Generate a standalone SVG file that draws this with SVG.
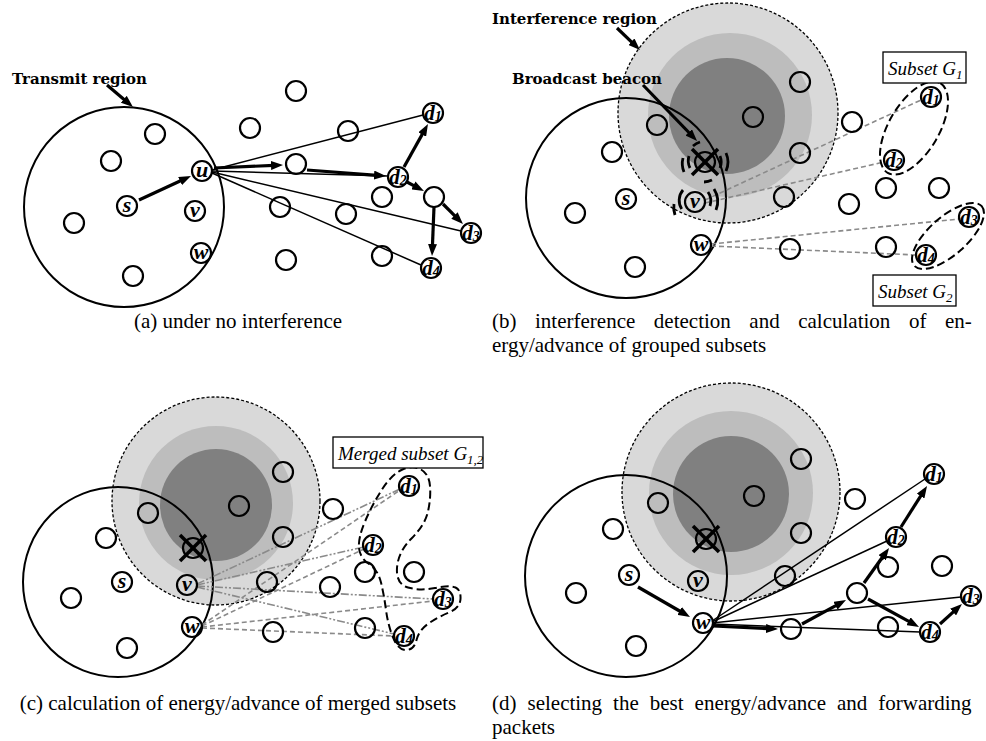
<svg xmlns="http://www.w3.org/2000/svg" width="986" height="741" viewBox="0 0 986 741">
<style>
.n{fill:none;stroke:#000;stroke-width:2.2}
.big{fill:none;stroke:#000;stroke-width:2}
.lbl{font-family:"Liberation Serif","Times New Roman",serif;font-style:italic;font-weight:bold;font-size:22px;text-anchor:middle}
.dl{font-family:"Liberation Serif","Times New Roman",serif;font-style:italic;font-weight:bold;font-size:21px;text-anchor:middle}
.thin{stroke:#000;stroke-width:1.5;fill:none}
.thick{stroke:#000;stroke-width:3.2;fill:none;marker-end:url(#ah)}
.gd{stroke:#8a8a8a;stroke-width:1.6;stroke-dasharray:5 3;fill:none}
.gdd{stroke:#8a8a8a;stroke-width:1.6;stroke-dasharray:8 2 2 2 2 2;fill:none}
.ir1{fill:#d9d9d9;stroke:#000;stroke-width:1.3;stroke-dasharray:3 2}
.ir2{fill:#bdbdbd}
.ir3{fill:#808080}
.title{font-family:"DejaVu Serif",serif;font-weight:bold;font-size:15px}
.cap{font-family:"Liberation Serif","Times New Roman",serif;font-size:21px}
.box{fill:#fff;stroke:#000;stroke-width:1.3}
.boxt{font-family:"Liberation Serif","Times New Roman",serif;font-style:italic;font-size:19px}
.ell{fill:none;stroke:#000;stroke-width:2;stroke-dasharray:8 4}
.x{stroke:#000;stroke-width:3.5}
.wave{fill:none;stroke:#000;stroke-width:2.8}
</style>
<defs>
<marker id="ah" viewBox="0 0 12 9" refX="3" refY="4.5" markerWidth="12" markerHeight="9" markerUnits="userSpaceOnUse" orient="auto"><path d="M0,0 L12,4.5 L0,9 z" fill="#000"/></marker>
</defs>

<!-- ================= Panel (a) ================= -->
<g id="a-regions">
<circle class="big" cx="124" cy="207" r="100"/>
<text class="title" x="12" y="84" textLength="135">Transmit region</text>
</g>
<g id="a-connectors">
<line class="thick" x1="107" y1="85" x2="126.1" y2="101.2"/>
<line class="thin" x1="212" y1="170" x2="423" y2="115"/>
<line class="thin" x1="212" y1="171" x2="388" y2="176"/>
<line class="thin" x1="212" y1="172" x2="461" y2="231"/>
<line class="thin" x1="212" y1="173" x2="421" y2="265"/>
<line class="thick" x1="139" y1="200" x2="182.8" y2="179.8"/>
<line class="thick" x1="214" y1="168" x2="274" y2="165.4"/>
<line class="thick" x1="307" y1="170" x2="377" y2="175.3"/>
<line class="thick" x1="404" y1="167" x2="423.6" y2="131.9"/>
<line class="thick" x1="407" y1="182" x2="416" y2="186.8"/>
<line class="thick" x1="443" y1="204" x2="456.6" y2="217.6"/>
<line class="thick" x1="434" y1="207" x2="432.4" y2="247"/>
</g>
<g id="a-n1"><circle class="n" cx="155" cy="134" r="10"/></g>
<g id="a-n2"><circle class="n" cx="111" cy="161" r="10"/></g>
<g id="a-s"><circle class="n" cx="127" cy="206" r="10"/><text class="lbl" x="127" y="212">s</text></g>
<g id="a-u"><circle class="n" cx="202" cy="171" r="10"/><text class="lbl" x="202" y="177">u</text></g>
<g id="a-v"><circle class="n" cx="195" cy="211" r="10"/><text class="lbl" x="195" y="217">v</text></g>
<g id="a-w"><circle class="n" cx="201" cy="253" r="10"/><text class="lbl" x="201" y="259">w</text></g>
<g id="a-n3"><circle class="n" cx="74" cy="223" r="10"/></g>
<g id="a-n4"><circle class="n" cx="133" cy="276" r="10"/></g>
<g id="a-n5"><circle class="n" cx="296" cy="91" r="10"/></g>
<g id="a-n6"><circle class="n" cx="250" cy="128" r="10"/></g>
<g id="a-n7"><circle class="n" cx="348" cy="131" r="10"/></g>
<g id="a-n8"><circle class="n" cx="296" cy="164" r="10"/></g>
<g id="a-d1"><circle class="n" cx="433" cy="113" r="10"/><text class="dl" x="433" y="120">d<tspan font-size="14" dy="1">1</tspan></text></g>
<g id="a-d2"><circle class="n" cx="398" cy="177" r="10"/><text class="dl" x="398" y="184">d<tspan font-size="14" dy="1">2</tspan></text></g>
<g id="a-n9"><circle class="n" cx="382" cy="197" r="10"/></g>
<g id="a-n10"><circle class="n" cx="434" cy="197" r="10"/></g>
<g id="a-n11"><circle class="n" cx="280" cy="207" r="10"/></g>
<g id="a-n12"><circle class="n" cx="346" cy="214" r="10"/></g>
<g id="a-d3"><circle class="n" cx="471" cy="233" r="10"/><text class="dl" x="471" y="240">d<tspan font-size="14" dy="1">3</tspan></text></g>
<g id="a-n13"><circle class="n" cx="286" cy="260" r="10"/></g>
<g id="a-n14"><circle class="n" cx="382" cy="256" r="10"/></g>
<g id="a-d4"><circle class="n" cx="431" cy="268" r="10"/><text class="dl" x="431" y="275">d<tspan font-size="14" dy="1">4</tspan></text></g>
<text class="cap" x="238" y="328" text-anchor="middle">(a) under no interference</text>

<!-- ================= Panel (b) ================= -->
<g id="b-regions">
<circle class="ir1" cx="728" cy="113" r="110"/>
<circle class="ir2" cx="730" cy="115" r="82"/>
<circle class="ir3" cx="727" cy="116" r="58"/>
<circle class="big" cx="626" cy="198" r="100"/>
<text class="title" x="492" y="24" textLength="165">Interference region</text>
<text class="title" x="512" y="84" textLength="150">Broadcast beacon</text>
</g>
<g id="b-connectors">
<line class="thick" x1="617" y1="28" x2="633.5" y2="43.8"/>
<line class="thick" x1="643" y1="85" x2="690.8" y2="134.5"/>
<line class="gd" x1="705" y1="200" x2="921" y2="100"/>
<line class="gd" x1="705" y1="203" x2="884" y2="162"/>
<line class="gd" x1="711" y1="244" x2="959" y2="219"/>
<line class="gd" x1="711" y1="246" x2="916" y2="255"/>
</g>
<g id="b-n1"><circle class="n" cx="657" cy="125" r="10"/></g>
<g id="b-n2"><circle class="n" cx="612" cy="152" r="10"/></g>
<g id="b-s"><circle class="n" cx="626" cy="199" r="10"/><text class="lbl" x="626" y="205">s</text></g>
<g id="b-n3"><circle class="n" cx="575" cy="213" r="10"/></g>
<g id="b-v"><circle class="n" cx="695" cy="202" r="10"/><text class="lbl" x="695" y="208">v</text>
<path class="wave" d="M681.7,209 A16,16 0 0 1 683,190 M675,215 A23,23 0 0 1 674,204 M708,192 A16,16 0 0 1 710,206 M714,189 A23,23 0 0 1 716,210"/></g>
<g id="b-w"><circle class="n" cx="701" cy="245" r="10"/><text class="lbl" x="701" y="251">w</text></g>
<g id="b-n4"><circle class="n" cx="635" cy="267" r="10"/></g>
<g id="b-beacon"><circle class="n" cx="705" cy="162" r="10"/>
<line class="x" x1="692" y1="149" x2="718" y2="175"/><line class="x" x1="692" y1="175" x2="718" y2="149"/>
<path class="wave" d="M690,168 A16,16 0 0 1 689,156 M684,172 A22,22 0 0 1 683,158 M693,146 A20,20 0 0 1 700,142 M720,156 A16,16 0 0 1 720,168 M726,153 A22,22 0 0 1 726,171 M712,180 A20,20 0 0 1 704,182"/></g>
<g id="b-n5"><circle class="n" cx="800" cy="82" r="10"/></g>
<g id="b-n6"><circle class="n" cx="753" cy="117" r="10"/></g>
<g id="b-n7"><circle class="n" cx="800" cy="153" r="10"/></g>
<g id="b-n8"><circle class="n" cx="784" cy="197" r="10"/></g>
<g id="b-n9"><circle class="n" cx="852" cy="122" r="10"/></g>
<g id="b-d1"><circle class="n" cx="931" cy="97" r="10"/><text class="dl" x="931" y="104">d<tspan font-size="14" dy="1">1</tspan></text></g>
<g id="b-d2"><circle class="n" cx="894" cy="160" r="10"/><text class="dl" x="894" y="167">d<tspan font-size="14" dy="1">2</tspan></text></g>
<g id="b-n10"><circle class="n" cx="886" cy="188" r="10"/></g>
<g id="b-n11"><circle class="n" cx="939" cy="188" r="10"/></g>
<g id="b-n12"><circle class="n" cx="849" cy="204" r="10"/></g>
<g id="b-d3"><circle class="n" cx="969" cy="217" r="10"/><text class="dl" x="969" y="224">d<tspan font-size="14" dy="1">3</tspan></text></g>
<g id="b-n13"><circle class="n" cx="790" cy="249" r="10"/></g>
<g id="b-n14"><circle class="n" cx="886" cy="247" r="10"/></g>
<g id="b-d4"><circle class="n" cx="926" cy="255" r="10"/><text class="dl" x="926" y="262">d<tspan font-size="14" dy="1">4</tspan></text></g>
<g id="b-G1">
<ellipse class="ell" cx="914" cy="128" rx="52" ry="25" transform="rotate(-59.6 914 128)"/>
<rect class="box" x="883" y="52" width="83" height="31"/>
<text class="boxt" x="888" y="75">Subset G<tspan font-size="13" dy="4">1</tspan></text>
</g>
<g id="b-G2">
<ellipse class="ell" cx="948" cy="236" rx="45" ry="19" transform="rotate(-41.5 948 236)"/>
<rect class="box" x="873" y="275" width="83" height="31"/>
<text class="boxt" x="878" y="298">Subset G<tspan font-size="13" dy="4">2</tspan></text>
</g>
<text class="cap" x="492" y="328" word-spacing="13.3">(b) interference detection and calculation of en-</text>
<text class="cap" x="492" y="352">ergy/advance of grouped subsets</text>

<!-- ================= Panel (c) ================= -->
<g id="c-regions">
<circle class="ir1" cx="216" cy="501" r="104"/>
<circle class="ir2" cx="216" cy="503" r="77"/>
<circle class="ir3" cx="216" cy="505" r="56"/>
<circle class="big" cx="118" cy="582" r="95"/>
</g>
<g id="c-connectors">
<line class="gdd" x1="197" y1="584" x2="400" y2="489"/>
<line class="gdd" x1="197" y1="585" x2="364" y2="547"/>
<line class="gdd" x1="197" y1="586" x2="433" y2="599"/>
<line class="gdd" x1="197" y1="587" x2="394" y2="634"/>
<line class="gd" x1="202" y1="625" x2="400" y2="490"/>
<line class="gd" x1="202" y1="626" x2="364" y2="549"/>
<line class="gd" x1="202" y1="627" x2="433" y2="601"/>
<line class="gd" x1="202" y1="628" x2="394" y2="636"/>
</g>
<g id="c-n1"><circle class="n" cx="148" cy="513" r="10"/></g>
<g id="c-n2"><circle class="n" cx="106" cy="538" r="10"/></g>
<g id="c-s"><circle class="n" cx="122" cy="582" r="10"/><text class="lbl" x="122" y="588">s</text></g>
<g id="c-n3"><circle class="n" cx="71" cy="598" r="10"/></g>
<g id="c-v"><circle class="n" cx="187" cy="585" r="10"/><text class="lbl" x="187" y="591">v</text></g>
<g id="c-w"><circle class="n" cx="192" cy="627" r="10"/><text class="lbl" x="192" y="633">w</text></g>
<g id="c-n4"><circle class="n" cx="127" cy="648" r="10"/></g>
<g id="c-x"><circle class="n" cx="193" cy="548" r="10"/><line class="x" x1="180" y1="535" x2="206" y2="561"/><line class="x" x1="180" y1="561" x2="206" y2="535"/></g>
<g id="c-n5"><circle class="n" cx="283" cy="472" r="10"/></g>
<g id="c-n6"><circle class="n" cx="239" cy="506" r="10"/></g>
<g id="c-n7"><circle class="n" cx="283" cy="537" r="10"/></g>
<g id="c-n8"><circle class="n" cx="267" cy="582" r="10"/></g>
<g id="c-n9"><circle class="n" cx="333" cy="509" r="10"/></g>
<g id="c-d1"><circle class="n" cx="409" cy="486" r="10"/><text class="dl" x="409" y="493">d<tspan font-size="14" dy="1">1</tspan></text></g>
<g id="c-d2"><circle class="n" cx="373" cy="545" r="10"/><text class="dl" x="373" y="552">d<tspan font-size="14" dy="1">2</tspan></text></g>
<g id="c-n10"><circle class="n" cx="365" cy="572" r="10"/></g>
<g id="c-n11"><circle class="n" cx="414" cy="572" r="10"/></g>
<g id="c-n12"><circle class="n" cx="330" cy="587" r="10"/></g>
<g id="c-d3"><circle class="n" cx="443" cy="599" r="10"/><text class="dl" x="443" y="606">d<tspan font-size="14" dy="1">3</tspan></text></g>
<g id="c-n13"><circle class="n" cx="273" cy="632" r="10"/></g>
<g id="c-n14"><circle class="n" cx="365" cy="628" r="10"/></g>
<g id="c-d4"><circle class="n" cx="404" cy="636" r="10"/><text class="dl" x="404" y="643">d<tspan font-size="14" dy="1">4</tspan></text></g>
<g id="c-G12">
<path class="ell" d="M421,469.5 Q429,474 430,486 Q431,498 428,511.5 Q425,525 411.5,538.5 Q398,552 397,568 Q396,584 408,587.5 Q420,591 435,588 Q450,585 455.5,587.5 Q461,590 460.5,599 Q460,608 449,612.5 Q438,617 428.5,623.5 Q419,630 416.5,640 Q414,650 406,650 Q398,650 393,637.5 Q388,625 386,610 Q384,595 381,582.5 Q378,570 369,564 Q360,558 359,548 Q358,538 365,521.5 Q372,505 382,489.5 Q392,474 402.5,469.5 Q413,465 421,469.5 Z"/>
<rect class="box" x="333" y="437" width="150" height="31"/>
<text class="boxt" x="338" y="460" font-size="18">Merged subset G<tspan font-size="13" dy="4">1,2</tspan></text>
</g>
<text class="cap" x="238" y="710" text-anchor="middle">(c) calculation of energy/advance of merged subsets</text>

<!-- ================= Panel (d) ================= -->
<g id="d-regions">
<circle class="ir1" cx="731" cy="492" r="109"/>
<circle class="ir2" cx="731" cy="493" r="82"/>
<circle class="ir3" cx="731" cy="494" r="58"/>
<circle class="big" cx="626" cy="576" r="101"/>
</g>
<g id="d-connectors">
<line class="thin" x1="712" y1="621" x2="925" y2="479"/>
<line class="thin" x1="712" y1="622" x2="887" y2="541"/>
<line class="thin" x1="712" y1="623" x2="961" y2="597"/>
<line class="thin" x1="712" y1="624" x2="920" y2="632"/>
<line class="thick" x1="638" y1="587" x2="682.2" y2="612.5"/>
<line class="thick" x1="713" y1="626" x2="769" y2="628.6"/>
<line class="thick" x1="802" y1="624" x2="838.1" y2="604.3"/>
<line class="thick" x1="864" y1="583" x2="883.8" y2="555.3"/>
<line class="thick" x1="901" y1="527" x2="922.2" y2="493.6"/>
<line class="thick" x1="868" y1="599" x2="911.1" y2="622.7"/>
<line class="thick" x1="940" y1="624" x2="955.3" y2="610.1"/>
</g>
<g id="d-n1"><circle class="n" cx="658" cy="503" r="10"/></g>
<g id="d-n2"><circle class="n" cx="613" cy="529" r="10"/></g>
<g id="d-s"><circle class="n" cx="629" cy="575" r="10"/><text class="lbl" x="629" y="581">s</text></g>
<g id="d-n3"><circle class="n" cx="576" cy="593" r="10"/></g>
<g id="d-v"><circle class="n" cx="698" cy="581" r="10"/><text class="lbl" x="698" y="587">v</text></g>
<g id="d-w"><circle class="n" cx="703" cy="623" r="10"/><text class="lbl" x="703" y="629">w</text></g>
<g id="d-n4"><circle class="n" cx="636" cy="646" r="10"/></g>
<g id="d-x"><circle class="n" cx="706" cy="539" r="10"/><line class="x" x1="693" y1="526" x2="719" y2="552"/><line class="x" x1="693" y1="552" x2="719" y2="526"/></g>
<g id="d-n5"><circle class="n" cx="801" cy="459" r="10"/></g>
<g id="d-n6"><circle class="n" cx="754" cy="496" r="10"/></g>
<g id="d-n7"><circle class="n" cx="801" cy="533" r="10"/></g>
<g id="d-n8"><circle class="n" cx="785" cy="576" r="10"/></g>
<g id="d-n9"><circle class="n" cx="855" cy="499" r="10"/></g>
<g id="d-d1"><circle class="n" cx="934" cy="474" r="10"/><text class="dl" x="934" y="481">d<tspan font-size="14" dy="1">1</tspan></text></g>
<g id="d-d2"><circle class="n" cx="896" cy="537" r="10"/><text class="dl" x="896" y="544">d<tspan font-size="14" dy="1">2</tspan></text></g>
<g id="d-n10"><circle class="n" cx="888" cy="567" r="10"/></g>
<g id="d-n11"><circle class="n" cx="942" cy="566" r="10"/></g>
<g id="d-n12"><circle class="n" cx="857" cy="593" r="10"/></g>
<g id="d-d3"><circle class="n" cx="971" cy="596" r="10"/><text class="dl" x="971" y="603">d<tspan font-size="14" dy="1">3</tspan></text></g>
<g id="d-n13"><circle class="n" cx="791" cy="629" r="10"/></g>
<g id="d-n14"><circle class="n" cx="888" cy="627" r="10"/></g>
<g id="d-d4"><circle class="n" cx="930" cy="632" r="10"/><text class="dl" x="930" y="639">d<tspan font-size="14" dy="1">4</tspan></text></g>
<text class="cap" x="492" y="710" word-spacing="5.75">(d) selecting the best energy/advance and forwarding</text>
<text class="cap" x="492" y="734">packets</text>
</svg>
